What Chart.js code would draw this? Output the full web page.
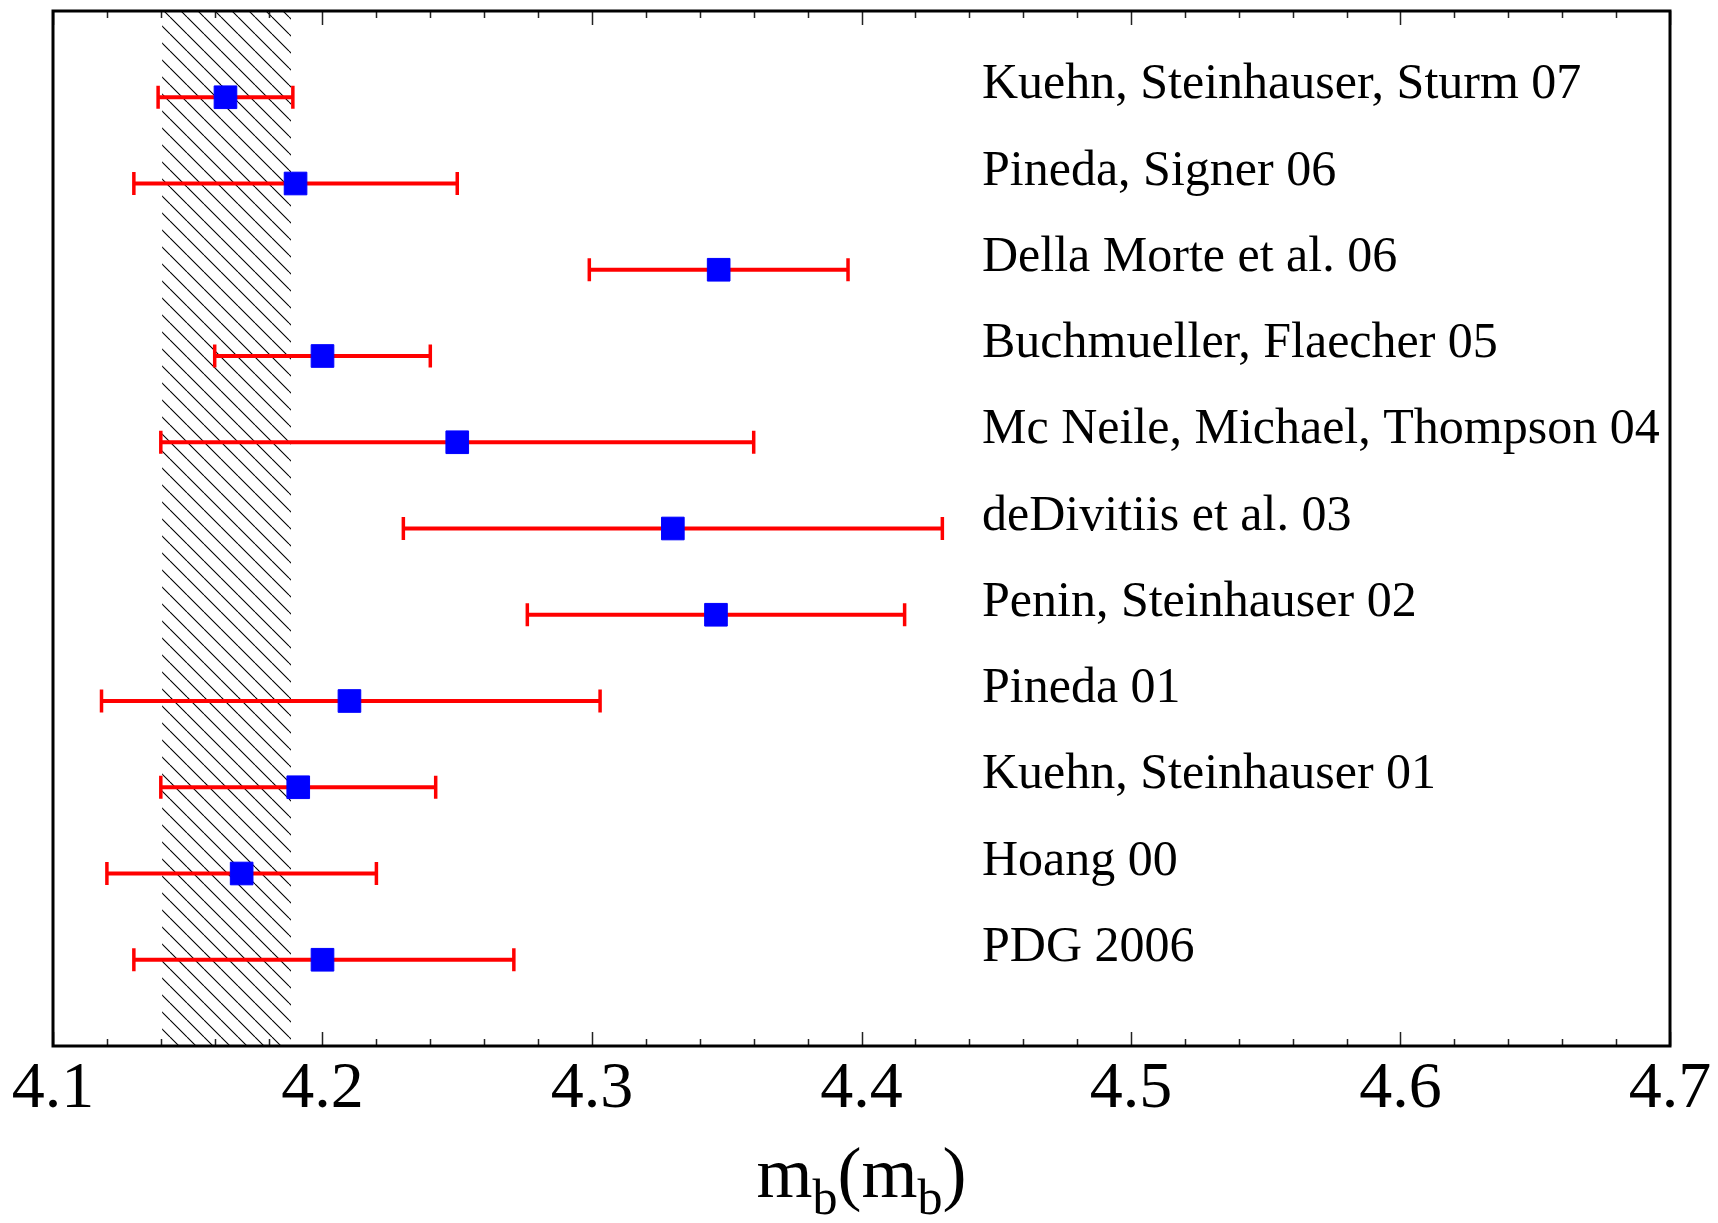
<!DOCTYPE html>
<html>
<head>
<meta charset="utf-8">
<script src="https://cdn.jsdelivr.net/npm/chart.js@4.4.1/dist/chart.umd.min.js"></script>
<style>
  html, body { margin: 0; padding: 0; background: #fff; }
  #wrap { width: 1718px; height: 1223px; }
</style>
</head>
<body>
<div id="wrap"><canvas id="chart"></canvas></div>
<script>
const names = [
    'Kuehn, Steinhauser, Sturm 07',
    'Pineda, Signer 06',
    'Della Morte et al. 06',
    'Buchmueller, Flaecher 05',
    'Mc Neile, Michael, Thompson 04',
    'deDivitiis et al. 03',
    'Penin, Steinhauser 02',
    'Pineda 01',
    'Kuehn, Steinhauser 01',
    'Hoang 00',
    'PDG 2006'
];
const central = [4.164, 4.190, 4.347, 4.200, 4.250, 4.330, 4.346, 4.210, 4.191, 4.170, 4.200];
const errLow  = [4.139, 4.130, 4.299, 4.160, 4.140, 4.230, 4.276, 4.118, 4.140, 4.120, 4.130];
const errHigh = [4.189, 4.250, 4.395, 4.240, 4.360, 4.430, 4.416, 4.303, 4.242, 4.220, 4.271];
const band = [4.1405, 4.1883];
const xTicks = [4.1, 4.2, 4.3, 4.4, 4.5, 4.6, 4.7];
const minorStep = 0.02;

const serif = "'Liberation Serif', 'Times New Roman', serif";
Chart.defaults.font.family = serif;
Chart.defaults.color = '#000000';

// hatch pattern for the shaded band
function makeHatch() {
    var s = 17;
    var c = document.createElement('canvas');
    c.width = s; c.height = s;
    var g = c.getContext('2d');
    g.strokeStyle = '#000000';
    g.lineWidth = 1.1;
    g.beginPath();
    for (var k = -1; k <= 1; k++) {
        g.moveTo(k * s, 0);
        g.lineTo(k * s + s, s);
    }
    g.stroke();
    return c;
}

const bandPlugin = {
    id: 'band',
    beforeDatasetsDraw(chart) {
        const { ctx, chartArea, scales } = chart;
        const x0 = scales.x.getPixelForValue(band[0]);
        const x1 = scales.x.getPixelForValue(band[1]);
        ctx.save();
        ctx.fillStyle = ctx.createPattern(makeHatch(), 'repeat');
        ctx.fillRect(x0, chartArea.top, x1 - x0, chartArea.bottom - chartArea.top);
        ctx.restore();
    }
};

const framePlugin = {
    id: 'frame',
    afterDraw(chart) {
        const { ctx, chartArea, scales } = chart;
        const xs = scales.x, ys = scales.y;
        ctx.save();
        // inner ticks, top and bottom
        ctx.strokeStyle = '#222222';
        ctx.lineWidth = 1.5;
        xs.ticks.forEach(function (t) {
            var px = Math.round(xs.getPixelForValue(t.value)) + 0.5;
            var major = xTicks.some(v => Math.abs(v - t.value) < 1e-6);
            var len = major ? 14 : 7;
            ctx.beginPath();
            ctx.moveTo(px, chartArea.bottom);
            ctx.lineTo(px, chartArea.bottom - len);
            ctx.moveTo(px, chartArea.top);
            ctx.lineTo(px, chartArea.top + len);
            ctx.stroke();
        });
        // frame
        ctx.strokeStyle = '#000000';
        ctx.lineWidth = 3;
        ctx.strokeRect(chartArea.left, chartArea.top, chartArea.right - chartArea.left, chartArea.bottom - chartArea.top);

        // row labels
        ctx.fillStyle = '#000000';
        ctx.font = '50px ' + serif;
        ctx.textAlign = 'left';
        ctx.textBaseline = 'alphabetic';
        var lx = chartArea.left + 929;
        names.forEach(function (n, i) {
            ctx.fillText(n, lx, ys.getPixelForValue(i) + 1);
        });

        // axis title m_b(m_b)
        var big = '72px ' + serif, small = '50px ' + serif;
        var parts = [['m', big, 0], ['b', small, 17], ['(m', big, 0], ['b', small, 17], [')', big, 0]];
        var w = 0;
        parts.forEach(function (p) { ctx.font = p[1]; w += ctx.measureText(p[0]).width; });
        var cx = (chartArea.left + chartArea.right) / 2 - w / 2;
        var by = chartArea.bottom + 151;
        parts.forEach(function (p) {
            ctx.font = p[1];
            ctx.fillText(p[0], cx, by + p[2]);
            cx += ctx.measureText(p[0]).width;
        });
        ctx.restore();
    }
};

const pointData = central.map((v, i) => ({ x: v, y: i }));

const datasets = [{
    label: 'values',
    data: pointData,
    order: 0,
    pointStyle: 'rect',
    pointRadius: 16,
    pointBackgroundColor: '#0000ff',
    pointBorderColor: '#0000ff',
    pointBorderWidth: 1
}];

errLow.forEach(function (lo, i) {
    datasets.push({
        label: 'err' + i,
        data: [{ x: lo, y: i }, { x: errHigh[i], y: i }],
        order: 1,
        showLine: true,
        borderColor: '#ff0000',
        borderWidth: 4,
        pointStyle: 'line',
        pointRotation: 90,
        pointRadius: 11.5,
        pointBorderColor: '#ff0000',
        pointBorderWidth: 3.5
    });
});

new Chart(document.getElementById('chart'), {
    type: 'scatter',
    data: { datasets: datasets },
    options: {
        responsive: true,
        maintainAspectRatio: false,
        animation: false,
        layout: { autoPadding: false, padding: { left: 53, right: 48, top: 11, bottom: 0 } },
        plugins: {
            legend: { display: false },
            tooltip: { enabled: false }
        },
        scales: {
            x: {
                type: 'linear',
                min: xTicks[0],
                max: xTicks[xTicks.length - 1],
                afterFit: function (scale) {
                    scale.height = 177;
                    scale.paddingLeft = 0;
                    scale.paddingRight = 0;
                },
                grid: { display: false, drawTicks: false },
                border: { display: false },
                ticks: {
                    stepSize: minorStep,
                    autoSkip: false,
                    maxRotation: 0,
                    padding: 4,
                    font: { size: 66, family: serif },
                    color: '#000000',
                    callback: function (v) {
                        var m = xTicks.find(t => Math.abs(t - v) < 1e-6);
                        return m !== undefined ? m.toFixed(1) : '';
                    }
                }
            },
            y: {
                type: 'linear',
                display: false,
                reverse: true,
                min: -1,
                max: names.length
            }
        }
    },
    plugins: [bandPlugin, framePlugin]
});
</script>
</body>
</html>
